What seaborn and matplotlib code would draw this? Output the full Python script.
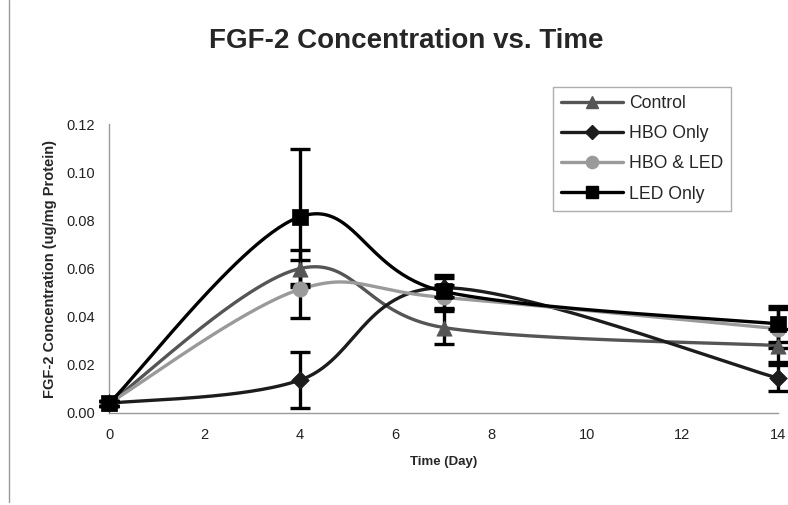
import numpy as np
import matplotlib
matplotlib.use("Agg")
import matplotlib.pyplot as plt
from matplotlib.lines import Line2D
import seaborn as sns

# Sampling days
days = [0, 4, 7, 14]

# Mean FGF-2 concentration (ug/mg protein) per group
control = [0.004, 0.0600, 0.0355, 0.0280]
hbo_only = [0.004, 0.0137, 0.0520, 0.0145]
hbo_led = [0.004, 0.0514, 0.0480, 0.0350]
led_only = [0.004, 0.0815, 0.0505, 0.0370]

# Error bar half-widths
control_err = [0.001, 0.0076, 0.0070, 0.0070]
hbo_only_err = [0.001, 0.0115, 0.0040, 0.0055]
hbo_led_err = [0.001, 0.0120, 0.0050, 0.0080]
led_only_err = [0.001, 0.0280, 0.0067, 0.0075]

groups = ["Control", "HBO Only", "HBO & LED", "LED Only"]
colors = ["#555555", "#1c1c1c", "#9a9a9a", "#000000"]
markers = ["^", "D", "o", "s"]
msizes = [11, 9, 11, 11]

sns.set_style("white")
plt.rcParams["font.family"] = ["Liberation Sans", "DejaVu Sans"]


def smooth(xs, ys, n=60):
    """Cardinal (Catmull-Rom) Bezier smoothing through the data points."""
    xs = np.asarray(xs, float)
    ys = np.asarray(ys, float)
    pts = np.column_stack([xs, ys])
    m = len(pts)
    out = []
    for i in range(m - 1):
        p0 = pts[i - 1] if i > 0 else pts[i]
        p1 = pts[i]
        p2 = pts[i + 1]
        p3 = pts[i + 2] if i + 2 < m else pts[i + 1]
        c1 = p1 + (p2 - p0) / 6.0
        c2 = p2 - (p3 - p1) / 6.0
        t = np.linspace(0, 1, n)[:, None]
        seg = ((1 - t) ** 3) * p1 + 3 * ((1 - t) ** 2) * t * c1 \
            + 3 * (1 - t) * t ** 2 * c2 + t ** 3 * p2
        out.append(seg if i == 0 else seg[1:])
    out = np.vstack(out)
    return out[:, 0], out[:, 1]


fig = plt.figure(figsize=(7.88, 5.05), dpi=100)
ax = fig.add_axes([109 / 788, 1 - 413 / 505, 669 / 788, 289 / 505])

series = [control, hbo_only, hbo_led, led_only]
errors = [control_err, hbo_only_err, hbo_led_err, led_only_err]

for name, vals, err, col, mk, ms in zip(groups, series, errors, colors, markers, msizes):
    sx, sy = smooth(days, vals)
    sns.lineplot(x=sx, y=sy, sort=False, estimator=None, ax=ax,
                 color=col, linewidth=2.4, zorder=2)
    ax.errorbar(days, vals, yerr=err, fmt="none", ecolor="black",
                elinewidth=2.4, capsize=7, capthick=2.4, zorder=3)
    sns.scatterplot(x=days, y=vals, ax=ax, marker=mk, s=ms ** 2,
                    color=col, edgecolor=col, linewidth=0.5, zorder=4)

ax.set_xlim(0, 14)
ax.set_ylim(0, 0.12)
ax.set_xticks(np.arange(0, 15, 2))
ax.set_yticks(np.arange(0, 0.121, 0.02))
ax.set_yticklabels([f"{v:.2f}" for v in np.arange(0, 0.121, 0.02)])
ax.tick_params(axis="both", labelsize=10.5, colors="#888888", labelcolor="#222222",
               length=5, width=1, direction="out", pad=5)
ax.tick_params(axis="x", pad=6)
for s in ["top", "right"]:
    ax.spines[s].set_visible(False)
for s in ["left", "bottom"]:
    ax.spines[s].set_color("#999999")
    ax.spines[s].set_linewidth(1)
for art in ax.lines + ax.collections:
    art.set_clip_on(False)

ax.set_xlabel("Time (Day)", fontsize=9.5, fontweight="bold", labelpad=10)
ax.set_ylabel("FGF-2 Concentration (ug/mg Protein)", fontsize=10.5,
              fontweight="bold", labelpad=7)

fig.text(406 / 788, 1 - 41 / 505, "FGF-2 Concentration vs. Time",
         fontsize=20, fontweight="bold", ha="center", va="center")

handles = [Line2D([0], [0], color=c, marker=m, markersize=ms * 0.8, linewidth=2.4,
                  markeredgecolor=c) for c, m, ms in zip(colors, markers, msizes)]
leg = fig.legend(handles, groups, loc="upper left",
                 bbox_to_anchor=(553 / 788, 1 - 87 / 505),
                 fontsize=12.7, frameon=True, fancybox=False,
                 handlelength=3.5, handletextpad=0.35, labelspacing=0.75,
                 borderpad=0.45, borderaxespad=0)
leg.get_frame().set_edgecolor("#999999")
leg.get_frame().set_linewidth(1)

# chart border on the left edge
fig.add_artist(Line2D([9 / 788, 9 / 788], [0.005, 1.0], color="#999999", linewidth=1))

fig.savefig("out.png", dpi=100)
